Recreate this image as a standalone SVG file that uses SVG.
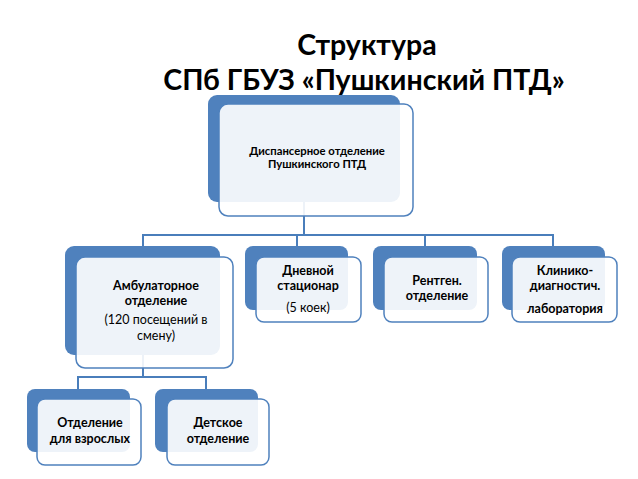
<svg xmlns="http://www.w3.org/2000/svg" width="638" height="479" viewBox="0 0 638 479">
<style>
.bk{fill:#4F81BD}
.fr{fill:#ffffff;fill-opacity:0.9;stroke:#4F81BD;stroke-width:1.5}
.ln{stroke:#4A7EBB;stroke-width:2;fill:none}
text{font-family:Lato,"Open Sans","Liberation Sans",sans-serif;fill:#000;text-anchor:middle}
.t{font-size:28.5px;font-weight:bold}
.b{font-size:12.5px;font-weight:bold}
.r{font-size:12.5px}
.s{font-size:11.3px;font-weight:bold}
</style>
<rect width="638" height="479" fill="#fff"/>
<g id="title">
<text class="t" x="367" y="55">Структура</text>
<text class="t" x="364" y="90">СПб ГБУЗ «Пушкинский ПТД»</text>
</g>
<g id="connectors">
<path class="ln" d="M304 202V235M143 235H553M143 234V246M297 234V246M425 234V246M553 234V246"/>
<path class="ln" d="M143 355V377M78 377H206M78 376V389M206 376V389"/>
</g>
<g id="n-top">
<rect class="bk" x="208" y="95" width="192" height="107" rx="9"/>
<rect class="fr" x="219" y="104" width="194" height="112" rx="9"/>
<text class="s" x="317" y="155">Диспансерное отделение</text>
<text class="s" x="317" y="168">Пушкинского ПТД</text>
</g>
<g id="n-amb">
<rect class="bk" x="65" y="246" width="155" height="109" rx="9"/>
<rect class="fr" x="76" y="257" width="157" height="111" rx="9"/>
<text class="b" x="156" y="290">Амбулаторное</text>
<text class="b" x="156" y="305">отделение</text>
<text class="r" x="156" y="324">(120 посещений в</text>
<text class="r" x="156" y="340">смену)</text>
</g>
<g id="n-day">
<rect class="bk" x="245" y="246" width="103" height="64" rx="8"/>
<rect class="fr" x="256" y="257" width="105" height="65" rx="8"/>
<text class="b" x="308" y="275">Дневной</text>
<text class="b" x="308" y="290">стационар</text>
<text class="r" x="308" y="312">(5 коек)</text>
</g>
<g id="n-xray">
<rect class="bk" x="373" y="246" width="104" height="64" rx="8"/>
<rect class="fr" x="384" y="257" width="104" height="65" rx="8"/>
<text class="b" x="437" y="285">Рентген.</text>
<text class="b" x="437" y="300">отделение</text>
</g>
<g id="n-lab">
<rect class="bk" x="502" y="246" width="103" height="64" rx="8"/>
<rect class="fr" x="512" y="257" width="105" height="65" rx="8"/>
<text class="b" x="565" y="275">Клинико-</text>
<text class="b" x="565" y="290">диагностич.</text>
<text class="b" x="565" y="313">лаборатория</text>
</g>
<g id="n-adult">
<rect class="bk" x="27" y="389" width="103" height="63" rx="8"/>
<rect class="fr" x="37" y="399" width="104" height="66" rx="8"/>
<text class="b" x="90" y="427">Отделение</text>
<text class="b" x="90" y="443">для взрослых</text>
</g>
<g id="n-child">
<rect class="bk" x="155" y="389" width="103" height="63" rx="8"/>
<rect class="fr" x="167" y="399" width="102" height="66" rx="8"/>
<text class="b" x="218" y="427">Детское</text>
<text class="b" x="218" y="443">отделение</text>
</g>
</svg>
